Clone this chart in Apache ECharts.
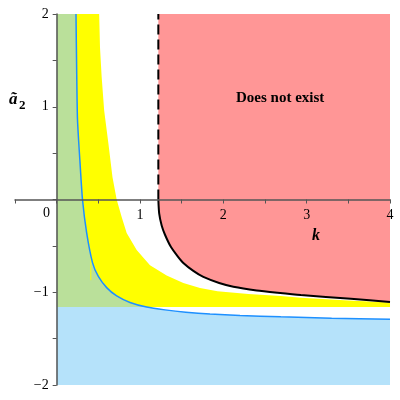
<!DOCTYPE html>
<html>
<head>
<meta charset="utf-8">
<script src="https://cdn.jsdelivr.net/npm/echarts@6/dist/echarts.min.js"></script>
<style>
  html, body { margin: 0; padding: 0; background: #fff; }
  #chart { width: 400px; height: 400px; }
</style>
</head>
<body>
<div id="chart"></div>
<script>
  // blue curve, top to bottom right
  const blueCurve = [
    [0.232, 2], [0.24, 1.4], [0.25, 0.86], [0.28, 0.4], [0.31, 0],
    [0.36, -0.36], [0.43, -0.68], [0.5, -0.83], [0.6, -0.95], [0.72, -1.04],
    [0.88, -1.11], [1.08, -1.16], [1.3, -1.19], [1.55, -1.215], [1.84, -1.235],
    [2.2, -1.25], [2.69, -1.265], [3.3, -1.28], [4, -1.29]
  ];
  // right edge of the yellow band
  const yellowEdge = [
    [0.51, 2], [0.52, 1.64], [0.54, 1.32], [0.57, 0.96], [0.62, 0.61],
    [0.67, 0.24], [0.72, 0], [0.78, -0.19], [0.84, -0.36], [0.96, -0.545],
    [1.12, -0.71], [1.32, -0.82], [1.52, -0.9], [1.72, -0.955], [1.93, -0.99],
    [2.3, -1.02], [2.69, -1.04], [2.93, -1.06], [3.5, -1.09], [4, -1.11]
  ];
  // thin yellow sliver inside the green part
  const yellowSliver = [[0.41, -0.6], [0.41, -0.87]];
  // boundary of the "does not exist" region
  const blackCurve = [
    [1.22, 0], [1.23, -0.15], [1.26, -0.28], [1.3, -0.38], [1.37, -0.51],
    [1.45, -0.61], [1.52, -0.685], [1.64, -0.77], [1.76, -0.835], [1.95, -0.9],
    [2.12, -0.94], [2.4, -0.98], [2.65, -1.005], [2.93, -1.03], [3.53, -1.07],
    [4, -1.105]
  ];
  const floorY = -1.16;
  const kStar = 1.22;
  const xTicks = [1, 2, 3, 4];
  const yTicks = [-2, -1, 1, 2];

  const bluePart = blueCurve.filter((p) => p[1] >= floorY);
  const blueTail = blueCurve.filter((p) => p[1] < floorY);
  const xCut = bluePart[bluePart.length - 1][0];

  const greenPoly = [[0, 2], ...bluePart, [0, floorY]];
  const yellowPoly = [...yellowEdge, [4, floorY], ...bluePart.slice().reverse()];
  const lightBluePoly = [[0, floorY], [xCut, floorY], ...blueTail, [4, -2], [0, -2]];
  const redPoly = [[kStar, 2], ...blackCurve, [4, 2]];

  function polygonSeries(points, color) {
    return {
      type: 'custom',
      silent: true,
      data: points,
      renderItem: function (params, api) {
        if (params.dataIndex !== 0) return;
        return {
          type: 'polygon',
          shape: { points: points.map((p) => api.coord(p)), smooth: 0 },
          style: { fill: color }
        };
      }
    };
  }

  function lineSeries(points, color, width, dashed) {
    return {
      type: 'line',
      data: points,
      showSymbol: false,
      smooth: dashed ? false : 0.2,
      silent: true,
      lineStyle: { color: color, width: width, type: dashed ? [10, 5] : 'solid' },
      z: 5
    };
  }

  // plot box: x -0.5..4 -> px 15..390, y -2..2 -> px 385..14
  const plotL = 15, plotR = 390, plotT = 14, plotB = 385;
  const zeroX = plotL + (0 + 0.5) / 4.5 * (plotR - plotL);
  const zeroY = plotT + (2 - 0) / 4 * (plotB - plotT);

  const serif = '"Liberation Serif", "DejaVu Serif", serif';
  const chart = echarts.init(document.getElementById('chart'));
  chart.setOption({
    animation: false,
    grid: { left: plotL, right: 400 - plotR, top: plotT, bottom: 400 - plotB, containLabel: false, outerBoundsMode: 'none' },
    xAxis: {
      type: 'value',
      min: -0.5,
      max: 4,
      interval: 0.5,
      position: 'bottom',
      offset: -(plotB - zeroY),
      splitLine: { show: false },
      axisLine: { onZero: false, lineStyle: { color: '#555', width: 1.5 } },
      axisTick: { show: true, length: 4, lineStyle: { color: '#555' } },
      axisLabel: {
        margin: 9,
        fontFamily: serif,
        fontSize: 14,
        color: '#000',
        formatter: (v) => (xTicks.includes(v) ? String(v) : '')
      },
      z: 10
    },
    yAxis: {
      type: 'value',
      min: -2,
      max: 2,
      interval: 0.5,
      position: 'left',
      offset: -(zeroX - plotL),
      splitLine: { show: false },
      axisLine: { onZero: false, lineStyle: { color: '#555', width: 1.5 } },
      axisTick: { show: true, length: 4, lineStyle: { color: '#555' } },
      axisLabel: {
        margin: 8,
        fontFamily: serif,
        fontSize: 14,
        color: '#000',
        formatter: (v) => (yTicks.includes(v) ? (v < 0 ? '\u2212' + Math.abs(v) : String(v)) : '')
      },
      z: 10
    },
    graphic: [
      { type: 'text', z: 100, left: 43, top: 206, style: { text: '0', font: '14px ' + serif, fill: '#000' } },
      { type: 'text', z: 100, left: 312, top: 228, style: { text: 'k', font: 'italic bold 16px ' + serif, fill: '#000' } },
      { type: 'text', z: 100, left: 9, top: 91, style: { text: '\u00e3', font: 'italic bold 17px ' + serif, fill: '#000' } },
      { type: 'text', z: 100, left: 19, top: 99, style: { text: '2', font: 'bold 13px ' + serif, fill: '#000' } },
      { type: 'text', z: 100, left: 236, top: 91, style: { text: 'Does not exist', font: 'bold 15px ' + serif, fill: '#000' } }
    ],
    series: [
      polygonSeries(lightBluePoly, '#b5e2fa'),
      polygonSeries(greenPoly, '#bae09a'),
      polygonSeries(yellowPoly, '#ffff00'),
      polygonSeries(redPoly, '#ff9696'),
      lineSeries(yellowSliver, '#ffff00', 1, false),
      lineSeries(blueCurve, '#1e90ff', 1.5, false),
      lineSeries(blackCurve, '#000', 2, false),
      lineSeries([[kStar, 0], [kStar, 2]], '#000', 2, true)
    ]
  });
</script>
</body>
</html>
